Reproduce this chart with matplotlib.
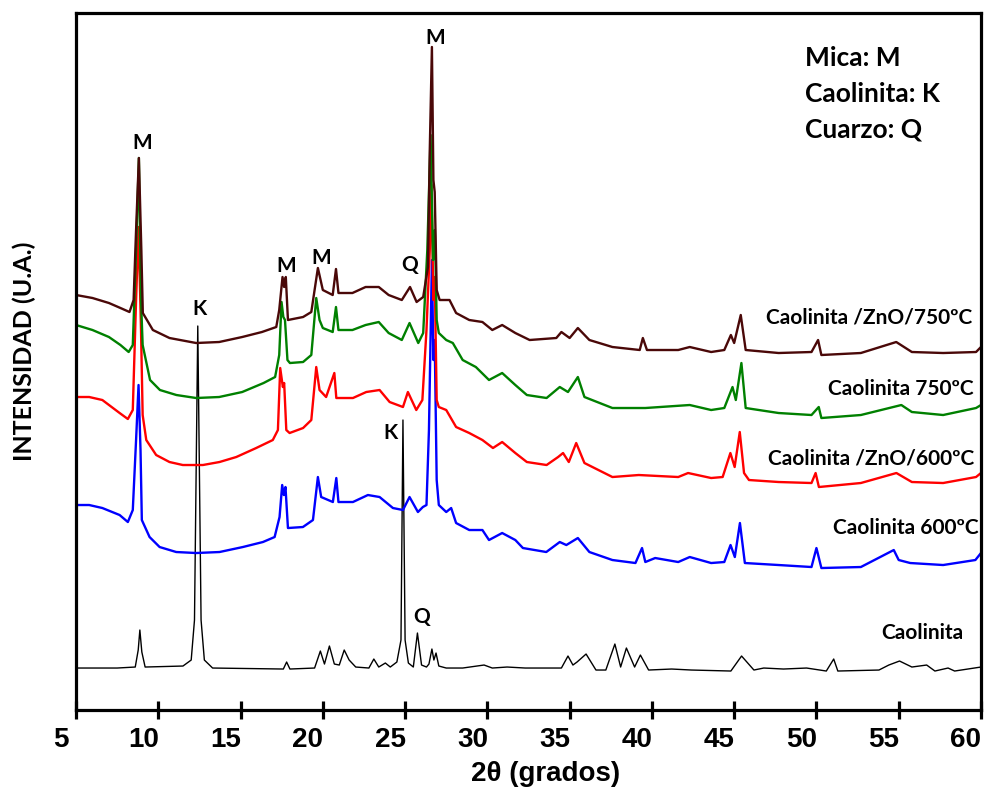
import matplotlib
matplotlib.use("Agg")
import matplotlib.pyplot as plt
import matplotlib.transforms as mtransforms

# ---------------- data (2theta in degrees, intensity in a.u.) ----------------
x_caol = [5.0, 7.5, 8.6, 8.78, 8.88, 9.0, 9.2, 11.5, 12.0, 12.2, 12.4, 12.6, 12.8, 13.3,
          17.6, 17.8, 18.0, 19.5, 19.85, 20.1, 20.4, 20.7, 21.0, 21.3, 21.6, 22.0, 22.8,
          23.1, 23.4, 23.8, 24.1, 24.5, 24.75, 24.87, 25.0, 25.2, 25.5, 25.75, 26.0, 26.3,
          26.45, 26.63, 26.75, 26.88, 27.05, 27.5, 28.5, 29.8, 30.3, 31.2, 32.3, 34.5,
          34.9, 35.2, 35.45, 36.0, 36.6, 37.2, 37.75, 38.1, 38.45, 38.95, 39.3, 39.8,
          41.2, 42.4, 44.8, 45.45, 46.2, 46.8, 48.0, 49.4, 50.6, 51.05, 51.3, 53.8,
          54.4, 55.05, 55.8, 56.7, 57.2, 58.0, 58.4, 60.0]
y_caol = [42, 42, 43, 60, 80, 58, 43, 44, 50, 90, 384, 90, 50, 42,
          41, 48, 41, 42, 59, 46, 64, 46, 45, 60, 50, 43, 42,
          51, 43, 47, 43, 48, 70, 290, 70, 47, 43, 77, 45, 43,
          46, 61, 50, 57, 44, 42, 42, 45, 42, 43, 42, 42,
          54, 45, 48, 56, 40, 40, 66, 43, 62, 43, 55, 40,
          41, 40, 39, 54, 40, 42, 41, 42, 39, 51, 39, 40,
          45, 49, 43, 45, 39, 42, 39, 43]

x_600 = [5.0, 5.8, 6.6, 7.65, 8.15, 8.45, 8.65, 8.8, 8.92, 9.0, 9.47, 10.08, 11.09, 12.3,
         13.72, 15.14, 16.36, 17.07, 17.37, 17.53, 17.63, 17.73, 17.88, 18.79, 19.4,
         19.7, 19.9, 20.61, 20.82, 20.95, 21.83, 22.74, 23.45, 24.26, 24.87, 25.27,
         25.78, 26.08, 26.3, 26.45, 26.63, 26.72, 26.8, 26.92, 27.05, 27.5, 27.8, 28.1,
         28.9, 29.7, 30.1, 30.9, 31.7, 32.16, 33.58, 34.4, 34.8, 35.5, 36.2, 37.6, 39.0,
         39.4, 39.6, 40.2, 41.6, 42.3, 43.6, 44.4, 44.78, 45.04, 45.35, 45.65, 47.7,
         49.7, 50.0, 50.3, 52.7, 54.7, 55.0, 55.7, 57.7, 59.66, 60.0]
y_600 = [205, 205, 202, 195, 188, 200, 270, 325, 260, 190, 173, 163, 158, 157,
         158, 163, 168, 173, 193, 225, 215, 223, 182, 183, 190,
         233, 213, 208, 232, 208, 208, 215, 213, 202, 200, 213,
         198, 203, 205, 280, 450, 350, 370, 230, 205, 198, 202, 187,
         180, 180, 170, 177, 170, 162, 158, 168, 165, 172, 158, 150, 147,
         162, 148, 152, 148, 153, 147, 148, 165, 153, 187, 147, 145,
         143, 162, 142, 143, 160, 150, 147, 145, 150, 157]

x_zno600 = [5.0, 5.8, 6.6, 7.65, 8.15, 8.45, 8.65, 8.8, 8.95, 9.05, 9.27, 9.87, 10.68, 11.49,
            12.71, 13.72, 14.74, 15.95, 16.96, 17.27, 17.41, 17.57, 17.65, 17.78, 17.98,
            18.8, 19.3, 19.6, 19.8, 20.2, 20.7, 20.82, 21.83, 22.64, 23.45, 24.06, 24.87,
            25.17, 25.68, 26.05, 26.3, 26.5, 26.6, 26.72, 26.8, 26.92, 27.05, 27.5, 28.1,
            28.9, 29.7, 30.34, 30.9, 31.7, 32.4, 33.6, 34.3, 34.6, 34.95, 35.4, 35.9,
            37.6, 39.2, 41.6, 42.2, 43.6, 44.3, 44.77, 45.03, 45.34, 45.6, 45.9, 47.7,
            49.7, 49.95, 50.15, 52.7, 54.86, 55.8, 57.7, 59.7, 60.0]
y_zno600 = [313, 313, 310, 297, 291, 300, 410, 483, 380, 295, 270, 255, 248, 245,
            245, 248, 253, 262, 270, 280, 342, 323, 327, 280, 277,
            282, 290, 343, 320, 313, 337, 312, 312, 318, 320, 308, 303,
            318, 300, 310, 380, 460, 525, 410, 433, 310, 303, 300, 283,
            277, 270, 262, 268, 257, 248, 245, 253, 257, 248, 267, 247,
            233, 235, 233, 237, 232, 233, 257, 243, 278, 237, 230, 228,
            227, 237, 223, 227, 237, 228, 227, 233, 237]

x_750 = [5.0, 6.0, 7.0, 7.7, 8.2, 8.45, 8.65, 8.82, 8.95, 9.05, 9.5, 10.1, 11.1, 12.3,
         13.7, 15.1, 16.4, 17.1, 17.35, 17.49, 17.6, 17.7, 17.85, 18.0, 18.8, 19.3,
         19.6, 19.8, 20.0, 20.6, 20.8, 20.95, 21.8, 22.6, 23.4, 24.0, 24.8, 25.27,
         25.8, 26.1, 26.35, 26.55, 26.7, 26.81, 26.92, 27.05, 27.5, 27.9, 28.5, 29.3,
         30.1, 30.9, 31.7, 32.4, 33.6, 34.4, 34.9, 35.5, 35.9, 37.6, 39.6, 42.3, 43.6,
         44.4, 44.9, 45.1, 45.44, 45.7, 47.7, 49.7, 50.14, 50.3, 52.7, 55.16, 55.8,
         57.7, 59.7, 60.0]
y_750 = [385, 380, 373, 365, 358, 365, 460, 552, 410, 365, 330, 320, 315, 312,
         313, 318, 327, 333, 355, 408, 393, 390, 350, 347, 348, 355,
         412, 390, 382, 378, 403, 380, 380, 385, 388, 377, 370, 387,
         367, 377, 460, 575, 450, 480, 390, 377, 370, 367, 350, 343,
         330, 337, 325, 315, 312, 323, 318, 333, 313, 302, 302, 305, 300,
         302, 323, 310, 347, 302, 297, 295, 303, 292, 295, 305, 298,
         295, 302, 305]

x_zno750 = [5.0, 6.0, 7.0, 7.7, 8.25, 8.5, 8.65, 8.82, 8.97, 9.06, 9.67, 10.68, 12.3,
            13.7, 15.1, 16.3, 17.17, 17.35, 17.55, 17.65, 17.75, 17.88, 18.8, 19.3,
            19.7, 20.0, 20.6, 20.8, 20.95, 21.8, 22.6, 23.4, 24.0, 24.8, 25.3, 25.7,
            26.1, 26.39, 26.5, 26.63, 26.72, 26.8, 26.92, 27.1, 27.7, 28.1, 28.9, 29.7,
            30.3, 30.9, 31.7, 32.57, 34.19, 34.5, 35.0, 35.5, 36.2, 37.6, 39.26, 39.45,
            39.7, 41.6, 42.3, 43.6, 44.4, 44.8, 45.0, 45.4, 45.7, 47.7, 49.7, 50.1,
            50.3, 52.7, 54.85, 55.8, 57.7, 59.7, 60.0]
y_zno750 = [415, 412, 407, 402, 398, 410, 480, 552, 460, 397, 380, 372, 367,
            368, 373, 378, 383, 400, 433, 423, 433, 390, 393, 398,
            442, 420, 415, 441, 417, 417, 423, 423, 415, 410, 423, 408,
            413, 443, 560, 663, 530, 518, 420, 410, 410, 397, 390, 388,
            380, 385, 377, 370, 372, 378, 372, 382, 370, 363, 360, 372,
            360, 360, 363, 358, 360, 375, 367, 395, 360, 357, 358, 370,
            355, 357, 368, 358, 357, 358, 363]

series = [
    (x_caol, y_caol, "black", "Caolinita", 58.93, 77),
    (x_600, y_600, "#0000ff", "Caolinita 600ºC", 59.86, 182),
    (x_zno600, y_zno600, "#ff0000", "Caolinita /ZnO/600ºC", 59.6, 252),
    (x_750, y_750, "#008000", "Caolinita 750ºC", 59.57, 321),
    (x_zno750, y_zno750, "#4a0808", "Caolinita /ZnO/750ºC", 59.5, 393),
]

phase_labels = ["M", "K", "M", "M", "Q", "M", "K", "Q"]
phase_x = [9.04, 12.5, 17.8, 19.92, 25.27, 26.85, 24.12, 26.0]
phase_y = [567, 401, 444, 452, 445, 672, 277, 93]

legend_lines = ["Mica: M", "Caolinita: K", "Cuarzo: Q"]

# ---------------- figure ----------------
fig = plt.figure(figsize=(9.86, 7.87), dpi=100)
ax = fig.add_axes([0.0771, 0.0978, 0.9178, 0.8857])

lab_font = ["Lato", "DejaVu Sans"]
tick_font = ["Liberation Sans", "DejaVu Sans"]

for xs, ys, col, name, tx, ty in series:
    lw = 1.0 if col == "black" else 1.7
    ax.plot(xs, ys, color=col, lw=lw, solid_joinstyle="round")
    ax.text(tx, ty, name, ha="right", va="center", fontsize=15,
            fontweight="bold", family=lab_font)

for lab, px, py in zip(phase_labels, phase_x, phase_y):
    ax.text(px, py, lab, ha="center", va="center", fontsize=15,
            fontweight="bold", family=lab_font)

for i, t in enumerate(legend_lines):
    ax.text(0.806, 0.935 - i * 0.051, t, transform=ax.transAxes, ha="left",
            va="center", fontsize=19, fontweight="bold", family=lab_font)

ax.set_xlim(5, 60)
ax.set_ylim(0, 697)
ax.set_xticks(range(5, 61, 5))
ax.set_yticks([])
for s in ax.spines.values():
    s.set_linewidth(2.3)
ax.tick_params(axis="x", direction="inout", length=13, width=2.3, pad=6)
shift = mtransforms.ScaledTranslation(-15 / 100, 0, fig.dpi_scale_trans)
for lbl in ax.get_xticklabels():
    lbl.set_family(tick_font)
    lbl.set_fontweight("bold")
    lbl.set_fontsize(20)
    lbl.set_transform(lbl.get_transform() + shift)

fig.text(545.5 / 986, 1 - 774 / 787, "2θ (grados)", ha="center", va="center",
         fontsize=20, fontweight="bold", family=tick_font)
fig.text(24 / 986, 1 - 351.5 / 787, "INTENSIDAD (U.A.)", rotation=90,
         ha="center", va="center", fontsize=18, fontweight="bold", family=lab_font)

fig.savefig("out.png", dpi=100)
